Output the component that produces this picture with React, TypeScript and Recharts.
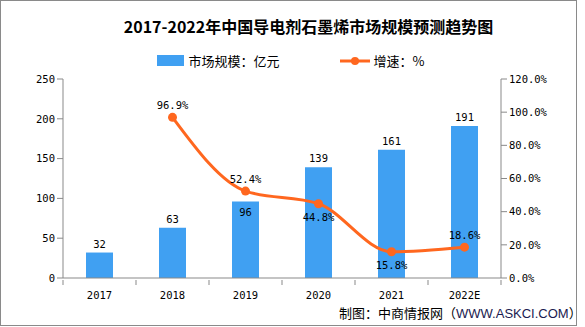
import React from "react";
import {
  ComposedChart,
  Bar,
  Line,
  XAxis,
  YAxis,
  Legend,
  LabelList,
} from "recharts";

const years = ["2017", "2018", "2019", "2020", "2021", "2022E"];
const marketSize = [32, 63, 96, 139, 161, 191];
const growthRate: (number | null)[] = [null, 96.9, 52.4, 44.8, 15.8, 18.6];
const leftTicks = [0, 50, 100, 150, 200, 250];
const rightTicks = [0, 20, 40, 60, 80, 100, 120];

const data = years.map((year, i) => ({
  year,
  size: marketSize[i],
  growth: growthRate[i],
}));

const BAR_COLOR = "#40A0F2";
const LINE_COLOR = "#FF671F";
const AXIS_COLOR = "#898989";
const NUM_FONT = "'DejaVu Sans Mono', monospace";
const CJK_FONT = "'Noto Sans CJK SC', sans-serif";

const W = 585;
const H = 327;
// plot area: x 63..501, y 79..278
const BAND = (501 - 63) / years.length;

// x ticks sit on the band edges, labels in the middle
const XTick = (props: any) => {
  const { x, y, payload, index } = props;
  return (
    <g>
      <line x1={x - BAND / 2} y1={y - 6} x2={x - BAND / 2} y2={y - 1} stroke={AXIS_COLOR} />
      {index === years.length - 1 && (
        <line x1={x + BAND / 2} y1={y - 6} x2={x + BAND / 2} y2={y - 1} stroke={AXIS_COLOR} />
      )}
      <text
        x={x}
        y={y + 13}
        textAnchor="middle"
        fontSize={10.5}
        fontFamily={NUM_FONT}
        fill="#000"
      >
        {payload.value}
      </text>
    </g>
  );
};

// "96" sits inside the bar top, the rest above
const SizeLabel = (props: any) => {
  const { x, y, width, value, index } = props;
  const inside = index === 2;
  return (
    <text
      x={x + width / 2}
      y={inside ? y + 14 : y - 5}
      textAnchor="middle"
      fontSize={10.5}
      fontFamily={NUM_FONT}
      fill="#000"
    >
      {value}
    </text>
  );
};

const below = [false, false, false, true, true, false];
const GrowthLabel = (props: any) => {
  const { x, y, value, index } = props;
  if (value == null) return null;
  return (
    <text
      x={x}
      y={below[index] ? y + 17 : y - 8}
      textAnchor="middle"
      fontSize={10.5}
      fontFamily={NUM_FONT}
      fill="#000"
    >
      {value.toFixed(1)}%
    </text>
  );
};

const LegendContent = () => (
  <div
    style={{
      display: "flex",
      justifyContent: "center",
      alignItems: "center",
      fontFamily: CJK_FONT,
      fontSize: 13,
      color: "#000",
    }}
  >
    <span style={{ display: "inline-block", width: 27, height: 11, background: BAR_COLOR, marginRight: 5 }} />
    <span style={{ marginRight: 60 }}>市场规模：亿元</span>
    <svg width={30} height={12} style={{ marginRight: 4 }}>
      <line x1={0} y1={6} x2={30} y2={6} stroke={LINE_COLOR} strokeWidth={3} />
      <circle cx={15} cy={6} r={4} fill={LINE_COLOR} />
    </svg>
    <span>增速：%</span>
  </div>
);

export default function App() {
  return (
    <div
      style={{
        position: "absolute",
        left: 0,
        top: 0,
        width: W,
        height: H,
        background: "#fff",
      }}
    >
      <div
        style={{
          position: "absolute",
          left: 0,
          top: 0,
          width: 577,
          height: 326,
          boxSizing: "border-box",
          border: "1px solid #8a8a8a",
        }}
      />
      <div
        style={{
          position: "absolute",
          left: 0,
          top: 14,
          width: 617,
          textAlign: "center",
          fontFamily: CJK_FONT,
          fontWeight: 700,
          fontSize: 16,
          color: "#000",
        }}
      >
        2017-2022年中国导电剂石墨烯市场规模预测趋势图
      </div>
      <ComposedChart
        width={W}
        height={H}
        data={data}
        margin={{ top: 79, right: 24, bottom: 19, left: 13 }}
      >
        <Legend
          layout="horizontal"
          verticalAlign="middle"
          align="center"
          wrapperStyle={{ top: 51, left: -2, width: 585 }}
          content={<LegendContent />}
        />
        <XAxis
          dataKey="year"
          height={30}
          axisLine={{ stroke: AXIS_COLOR }}
          tickLine={false}
          tick={<XTick />}
          interval={0}
        />
        <YAxis
          yAxisId="left"
          width={50}
          domain={[0, 250]}
          ticks={leftTicks}
          axisLine={{ stroke: AXIS_COLOR }}
          tickLine={{ stroke: AXIS_COLOR }}
          tickSize={6}
          tick={{ fontSize: 10.5, fontFamily: NUM_FONT, fill: "#000" }}
        />
        <YAxis
          yAxisId="right"
          orientation="right"
          width={60}
          domain={[0, 120]}
          ticks={rightTicks}
          axisLine={{ stroke: AXIS_COLOR }}
          tickLine={{ stroke: AXIS_COLOR }}
          tickSize={6}
          tickFormatter={(v: number) => `${v.toFixed(1)}%`}
          tick={{ fontSize: 10.5, fontFamily: NUM_FONT, fill: "#000" }}
        />
        <Bar
          yAxisId="left"
          dataKey="size"
          fill={BAR_COLOR}
          barSize={27}
          isAnimationActive={false}
        >
          <LabelList dataKey="size" content={<SizeLabel />} />
        </Bar>
        <Line
          yAxisId="right"
          type="monotone"
          dataKey="growth"
          stroke={LINE_COLOR}
          strokeWidth={3}
          dot={{ r: 4.5, fill: LINE_COLOR, stroke: LINE_COLOR, strokeWidth: 0 }}
          activeDot={false}
          connectNulls
          isAnimationActive={false}
        >
          <LabelList dataKey="growth" content={<GrowthLabel />} />
        </Line>
      </ComposedChart>
      <div
        style={{
          position: "absolute",
          left: 339,
          top: 303,
          fontFamily: CJK_FONT,
          fontSize: 13,
          color: "#000",
          whiteSpace: "nowrap",
        }}
      >
        制图：中商情报网（<span style={{ fontFamily: "'Liberation Sans', sans-serif", color: "#1a1a50" }}>WWW.ASKCI.COM</span>）
      </div>
    </div>
  );
}
